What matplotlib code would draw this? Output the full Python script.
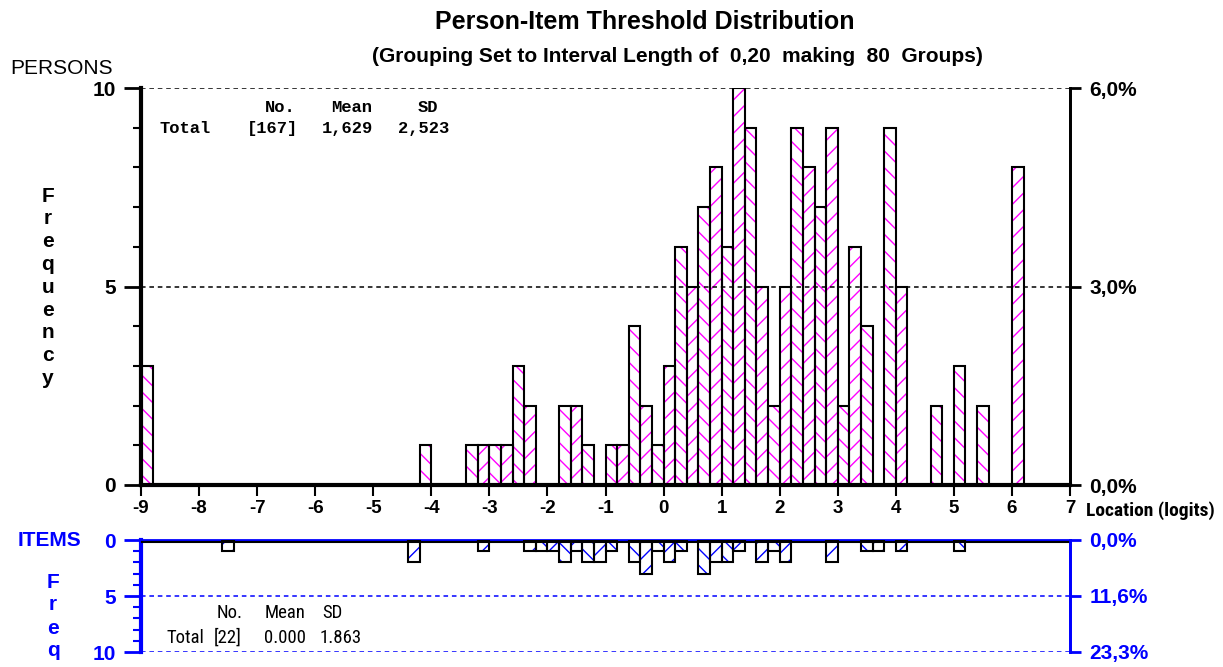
import matplotlib
matplotlib.use("Agg")
import matplotlib.pyplot as plt
from matplotlib import font_manager as fm

# ---------------- data ----------------
bin_width = 0.2
x_min, x_max = -9, 7
x_ticks = list(range(-9, 8))

person_bins = [-9.0, -4.2, -3.4, -3.2, -3.0, -2.8, -2.6, -2.4, -1.8, -1.6, -1.4,
               -1.0, -0.8, -0.6, -0.4, -0.2, 0.0, 0.2, 0.4, 0.6, 0.8, 1.0, 1.2,
               1.4, 1.6, 1.8, 2.0, 2.2, 2.4, 2.6, 2.8, 3.0, 3.2, 3.4, 3.8, 4.0,
               4.6, 5.0, 5.4, 6.0]
person_counts = [3, 1, 1, 1, 1, 1, 3, 2, 2, 2, 1,
                 1, 1, 4, 2, 1, 3, 6, 5, 7, 8, 6, 10,
                 9, 5, 2, 5, 9, 8, 7, 9, 2, 6, 4, 9, 5,
                 2, 3, 2, 8]

item_bins = [-7.6, -4.4, -3.2, -2.4, -2.2, -2.0, -1.8, -1.6, -1.4, -1.2, -1.0,
             -0.6, -0.4, -0.2, 0.0, 0.2, 0.6, 0.8, 1.0, 1.2, 1.6, 1.8, 2.0,
             2.8, 3.4, 3.6, 4.0, 5.0]
item_counts = [1, 2, 1, 1, 1, 1, 2, 1, 2, 2, 1,
               2, 3, 1, 2, 1, 3, 2, 2, 1, 2, 1, 2,
               2, 1, 1, 1, 1]

person_stats_head = ["No.", "Mean", "SD"]
person_stats_row = ["Total", "[167]", "1,629", "2,523"]
item_stats_head = ["No.", "Mean", "SD"]
item_stats_row = ["Total", "[22]", "0.000", "1.863"]

title = "Person-Item Threshold Distribution"
subtitle = "(Grouping Set to Interval Length of  0,20  making  80  Groups)"

# ---------------- style ----------------
plt.rcParams["axes.unicode_minus"] = False
plt.rcParams["hatch.linewidth"] = 1.0
names = {f.name for f in fm.fontManager.ttflist}
NARROW = next((n for n in ["Liberation Sans Narrow", "Arial Narrow", "Roboto Condensed"]
               if n in names), "Liberation Sans")
SANS = "Liberation Sans" if "Liberation Sans" in names else "DejaVu Sans"
MONO = "Liberation Mono" if "Liberation Mono" in names else "DejaVu Sans Mono"
MAG = "#ff00ff"
BLUE = "#0000ff"

W, H = 1223, 667
fig = plt.figure(figsize=(W / 100, H / 100), dpi=100)


def ftext(px, py, s, **kw):
    fig.text(px / W, 1 - py / H, s, **kw)


def pct(v, total):
    return f"{v / total * 100:.1f}%".replace(".", ",")


def hatch_for(b):
    idx = int(round((b - x_min) / bin_width))
    return "\\\\" if idx % 2 == 0 else "//"


# ---------------- persons panel ----------------
ax = fig.add_axes([141 / W, (H - 485) / H, 929 / W, 397 / H])
for b, c in zip(person_bins, person_counts):
    ax.bar(b, c, width=bin_width, align="edge", facecolor="white",
           edgecolor=MAG, hatch=hatch_for(b), linewidth=0, zorder=2)
ax.bar(person_bins, person_counts, width=bin_width, align="edge", fill=False,
       edgecolor="black", linewidth=1.5, zorder=3)
ax.set_xlim(x_min, x_max)
ax.set_ylim(0, 10)
for yv in (5, 10):
    ax.axhline(yv, color="black", lw=1.1, ls=(0, (3, 2.5)), zorder=4)
ax.spines["top"].set_visible(False)
ax.spines["right"].set_linewidth(2)
ax.spines["left"].set_linewidth(3)
ax.spines["bottom"].set_linewidth(3)
ax.set_yticks([0, 5, 10])
ax.set_yticks(range(11), minor=True)
ax.set_yticklabels(["0", "5", "10"], fontfamily=SANS, fontsize=15, fontweight="bold")
ax.tick_params(axis="y", which="major", length=12, width=2, pad=6)
ax.tick_params(axis="y", which="minor", length=6, width=1.5)
ax.set_xticks(x_ticks)
ax.set_xticklabels([str(t) for t in x_ticks], fontfamily=SANS, fontsize=13.5,
                   fontweight="bold")
ax.tick_params(axis="x", length=8, width=1.5, pad=3)

axr = ax.twinx()
axr.set_ylim(0, 10)
axr.set_yticks([0, 5, 10])
axr.set_yticklabels([pct(v, sum(person_counts)) for v in (0, 5, 10)],
                    fontfamily=SANS, fontsize=15, fontweight="bold")
axr.tick_params(axis="y", length=8, width=2, pad=6)
axr.spines["top"].set_visible(False)
axr.spines["right"].set_linewidth(2)
axr.spines["left"].set_visible(False)
axr.spines["bottom"].set_visible(False)

# stats text (persons)
for s, xd in zip(person_stats_head, [-6.60, -5.37, -4.06]):
    ax.text(xd, 9.52, s, ha="center", va="center", fontfamily=MONO,
            fontweight="bold", fontsize=12.3, zorder=5)
for s, xd in zip(person_stats_row, [-8.24, -6.74, -5.45, -4.14]):
    ax.text(xd, 8.97, s, ha="center", va="center", fontfamily=MONO,
            fontweight="bold", fontsize=12.3, zorder=5)

# ---------------- items panel ----------------
ax2 = fig.add_axes([141 / W, (H - 652) / H, 929 / W, 112 / H])
for b, c in zip(item_bins, item_counts):
    ax2.bar(b, c, width=bin_width, align="edge", facecolor="white",
            edgecolor=BLUE, hatch=hatch_for(b), linewidth=0, zorder=2)
ax2.bar(item_bins, item_counts, width=bin_width, align="edge", fill=False,
        edgecolor="black", linewidth=1.5, zorder=3)
ax2.set_xlim(x_min, x_max)
ax2.set_ylim(10, 0)
ax2.axhline(0.18, color="black", lw=1.5, zorder=4)
for yv in (5, 10):
    ax2.axhline(yv, color=BLUE, lw=1.1, ls=(0, (3, 2.5)), zorder=4)
ax2.spines["bottom"].set_visible(False)
ax2.spines["top"].set_color(BLUE)
ax2.spines["top"].set_linewidth(2)
ax2.spines["left"].set_color(BLUE)
ax2.spines["left"].set_linewidth(3)
ax2.spines["right"].set_color(BLUE)
ax2.spines["right"].set_linewidth(2)
ax2.tick_params(axis="x", bottom=False, labelbottom=False)
ax2.set_yticks([0, 5, 10])
ax2.set_yticks(range(11), minor=True)
ax2.set_yticklabels(["0", "5", "10"], fontfamily=SANS, fontsize=15,
                    fontweight="bold", color=BLUE)
ax2.tick_params(axis="y", which="major", length=12, width=2, color=BLUE, pad=6)
ax2.tick_params(axis="y", which="minor", length=6, width=1.5, color=BLUE)

ax2r = ax2.twinx()
ax2r.set_ylim(10, 0)
ax2r.set_yticks([0, 5, 10])
ax2r.set_yticklabels([pct(v, sum(item_counts)) for v in (0, 5, 10)],
                     fontfamily=SANS, fontsize=15, fontweight="bold", color=BLUE)
ax2r.tick_params(axis="y", length=8, width=2, color=BLUE, pad=6)
for sp in ("top", "left", "bottom"):
    ax2r.spines[sp].set_visible(False)
ax2r.spines["right"].set_color(BLUE)
ax2r.spines["right"].set_linewidth(2)

for s, xd in zip(item_stats_head, [-7.48, -6.52, -5.71]):
    ax2.text(xd, 6.5, s, ha="center", va="center", fontfamily=NARROW,
             fontsize=13.5, color="black", zorder=5)
for s, xd in zip(item_stats_row, [-8.24, -7.50, -6.52, -5.56]):
    ax2.text(xd, 8.75, s, ha="center", va="center", fontfamily=NARROW,
             fontsize=13.5, color="black", zorder=5)

# ---------------- titles & labels ----------------
ftext(645, 22, title, ha="center", va="center", fontfamily=SANS, fontsize=18,
      fontweight="bold")
ftext(677, 57, subtitle, ha="center", va="center", fontfamily=SANS,
      fontsize=15, fontweight="bold")
ftext(10, 68, "PERSONS", ha="left", va="center", fontfamily=SANS, fontsize=15)
for i, ch in enumerate("Frequency"):
    ftext(48, 196 + i * 22.8, ch, ha="center", va="center", fontfamily=SANS,
          fontsize=15, fontweight="bold")
ftext(18, 540, "ITEMS", ha="left", va="center", fontfamily=SANS, fontsize=15,
      fontweight="bold", color=BLUE)
for i, ch in enumerate("Freq"):
    ftext(53, 582 + i * 23, ch, ha="center", va="center", fontfamily=SANS,
          fontsize=15, fontweight="bold", color=BLUE)
ftext(1086, 511, "Location (logits)", ha="left", va="center", fontfamily=NARROW,
      fontsize=14, fontweight="bold")

fig.savefig("out.png", dpi=100)
